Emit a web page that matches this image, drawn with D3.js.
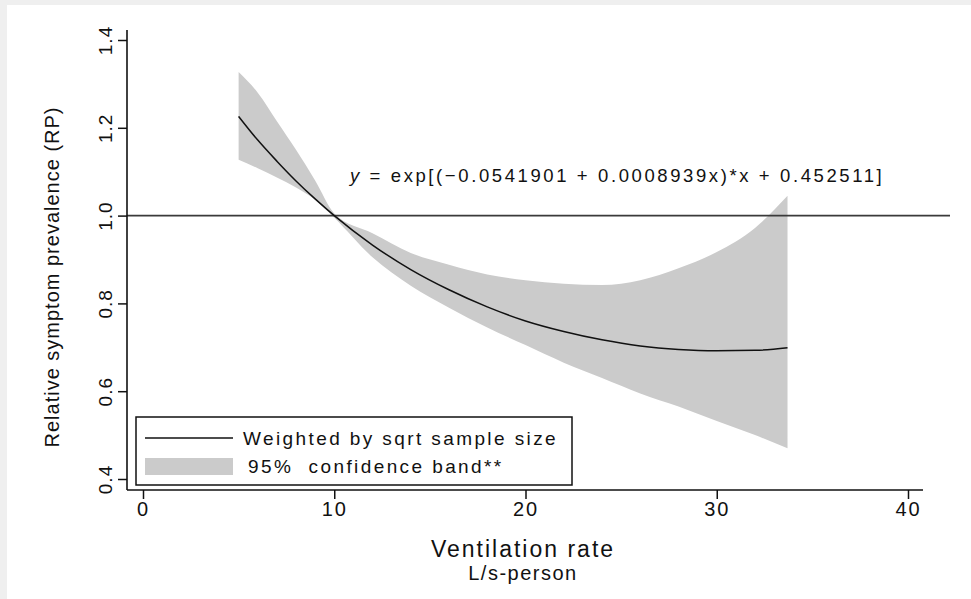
<!DOCTYPE html>
<html>
<head>
<meta charset="utf-8">
<script src="https://cdn.jsdelivr.net/npm/d3@7"></script>
<style>
  body { margin: 0; background: #efefef; }
  svg { display: block; }
  text { font-family: "Liberation Sans", Arial, sans-serif; fill: #111; }
</style>
</head>
<body>
<div id="chart"></div>
<script>
// fitted curve
const fitX = [5, 6, 7, 8, 9, 10, 12, 14, 16, 18, 20, 22, 24, 26, 28, 30, 32, 33.7];
const fitY = [1.226, 1.172, 1.124, 1.079, 1.038, 1.0, 0.933, 0.877, 0.831, 0.792, 0.760, 0.736, 0.717, 0.703, 0.695, 0.692, 0.693, 0.699];
// 95% band edges
const bandUpper = [1.327, 1.28, 1.215, 1.15, 1.08, 1.005, 0.96, 0.915, 0.888, 0.866, 0.853, 0.845, 0.842, 0.853, 0.880, 0.917, 0.972, 1.045];
const bandLower = [1.127, 1.108, 1.087, 1.064, 1.036, 0.995, 0.905, 0.840, 0.790, 0.745, 0.705, 0.665, 0.630, 0.595, 0.565, 0.532, 0.500, 0.470];

const xTicks = [0, 10, 20, 30, 40];
const yTicks = [0.4, 0.6, 0.8, 1.0, 1.2, 1.4];
const refValue = 1.0;
const legendLabels = ['Weighted by sqrt sample size', '95%  confidence band**'];
const equation = ' = exp[(\u22120.0541901 + 0.0008939x)*x + 0.452511]';

const chartWidth = 971;
const chartHeight = 599;
const bandColor = '#cbcbcb';

const rows = fitX.map((x, i) => ({x: x, y: fitY[i], hi: bandUpper[i], lo: bandLower[i]}));

//Scales
const xScale = d3.scaleLinear()
  .domain([0, 40])
  .range([143, 908]);

const yScale = d3.scaleLinear()
  .domain([0.4, 1.4])
  .range([479, 40]);

const chart = d3.select('#chart')
  .append('svg')
  .attr('width', chartWidth)
  .attr('height', chartHeight);

//Background panel
chart.append('rect')
  .attr('x', 7).attr('y', 5)
  .attr('width', chartWidth - 7).attr('height', chartHeight - 5)
  .attr('fill', '#ffffff');

//Confidence band
const band = d3.area()
  .x(d => xScale(d.x))
  .y0(d => yScale(d.lo))
  .y1(d => yScale(d.hi))
  .curve(d3.curveMonotoneX);

chart.append('path')
  .datum(rows)
  .attr('d', band)
  .attr('fill', bandColor);

//Reference line at RP = 1
chart.append('line')
  .attr('x1', 127).attr('x2', 950)
  .attr('y1', yScale(refValue)).attr('y2', yScale(refValue))
  .attr('stroke', '#3a3a3a')
  .attr('stroke-width', 1.6);

//Fitted line
const line = d3.line()
  .x(d => xScale(d.x))
  .y(d => yScale(d.y))
  .curve(d3.curveMonotoneX);

chart.append('path')
  .datum(rows)
  .attr('d', line)
  .attr('fill', 'none')
  .attr('stroke', '#111')
  .attr('stroke-width', 1.5);

//Axes
const xAxis = d3.axisBottom(xScale)
  .tickValues(xTicks)
  .tickSize(9)
  .tickSizeOuter(0)
  .tickFormat(d3.format('d'));

const gx = chart.append('g')
  .attr('transform', `translate(0, 490)`)
  .call(xAxis);
gx.select('.domain').remove();
gx.selectAll('line').attr('stroke', '#111').attr('stroke-width', 1.5);
gx.selectAll('text')
  .attr('y', 26)
  .attr('dy', 0)
  .style('font-size', '20px')
  .style('letter-spacing', '2px');

chart.append('line')
  .attr('x1', 127).attr('x2', 923)
  .attr('y1', 490).attr('y2', 490)
  .attr('stroke', '#111').attr('stroke-width', 1.6);

const yAxis = d3.axisLeft(yScale)
  .tickValues(yTicks)
  .tickSize(9)
  .tickSizeOuter(0)
  .tickFormat(d3.format('.1f'));

const gy = chart.append('g')
  .attr('transform', `translate(127, 0)`)
  .call(yAxis);
gy.select('.domain').remove();
gy.selectAll('line').attr('stroke', '#111').attr('stroke-width', 1.5);
gy.selectAll('text')
  .attr('x', 0).attr('dy', 0)
  .attr('transform', 'translate(-15, 0) rotate(-90)')
  .attr('text-anchor', 'middle')
  .style('font-size', '19px')
  .style('letter-spacing', '1px');

chart.append('line')
  .attr('x1', 127).attr('x2', 127)
  .attr('y1', 30).attr('y2', 490)
  .attr('stroke', '#111').attr('stroke-width', 1.6);

//Axis titles
chart.append('text')
  .attr('transform', 'translate(59, 277) rotate(-90)')
  .attr('text-anchor', 'middle')
  .style('font-size', '20px')
  .style('letter-spacing', '1px')
  .text('Relative symptom prevalence (RP)');

chart.append('text')
  .attr('x', 523).attr('y', 557)
  .attr('text-anchor', 'middle')
  .style('font-size', '23px')
  .style('letter-spacing', '2px')
  .text('Ventilation rate');

chart.append('text')
  .attr('x', 523).attr('y', 580)
  .attr('text-anchor', 'middle')
  .style('font-size', '20px')
  .style('letter-spacing', '1.5px')
  .text('L/s-person');

//Equation
const eq = chart.append('text')
  .attr('x', 350).attr('y', 182)
  .style('font-size', '18.5px')
  .style('letter-spacing', '2.6px');
eq.append('tspan').style('font-style', 'italic').text('y');
eq.append('tspan').text(equation);

//Legend
const legend = chart.append('g');
legend.append('rect')
  .attr('x', 136).attr('y', 417)
  .attr('width', 436).attr('height', 68)
  .attr('fill', '#fff')
  .attr('stroke', '#111')
  .attr('stroke-width', 1.5);
legend.append('line')
  .attr('x1', 145).attr('x2', 233)
  .attr('y1', 438).attr('y2', 438)
  .attr('stroke', '#111').attr('stroke-width', 1.5);
legend.append('rect')
  .attr('x', 145).attr('y', 458)
  .attr('width', 88).attr('height', 17)
  .attr('fill', bandColor);
legend.selectAll('text.lg')
  .data(legendLabels)
  .enter()
  .append('text')
  .attr('class', 'lg')
  .attr('x', (d, i) => i === 0 ? 243 : 248)
  .attr('y', (d, i) => i === 0 ? 445 : 473)
  .style('font-size', '19px')
  .style('letter-spacing', '2.4px')
  .style('white-space', 'pre')
  .text(d => d);
</script>
</body>
</html>
